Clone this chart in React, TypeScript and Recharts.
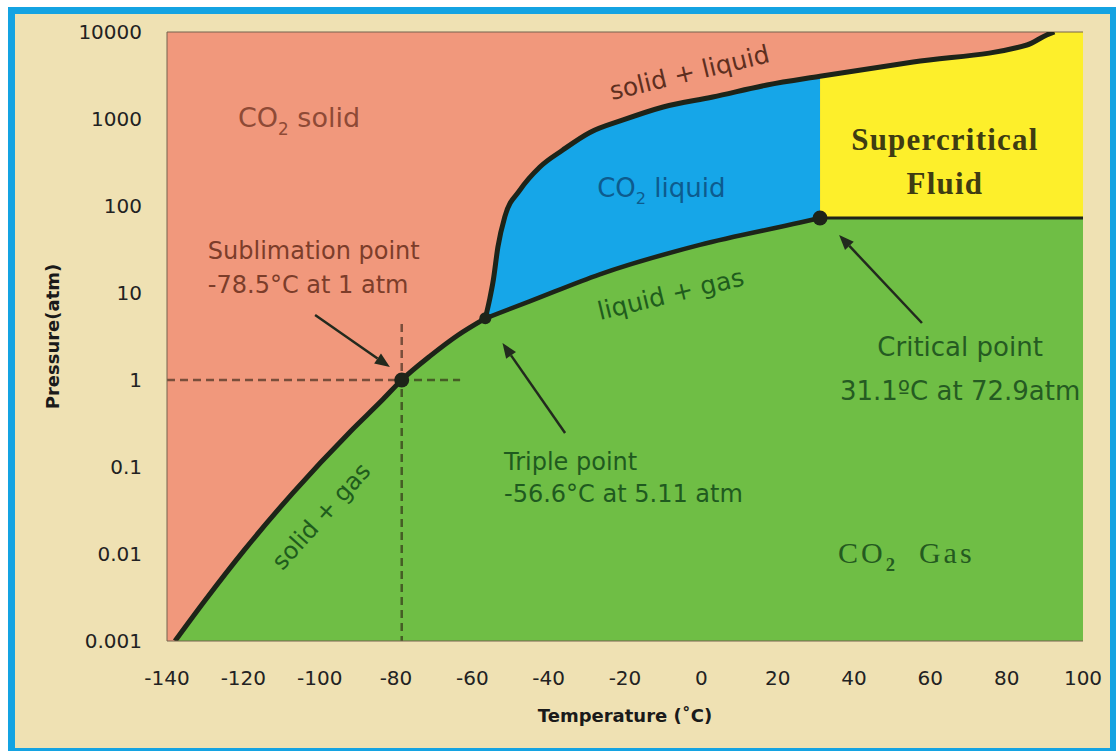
import React from 'react';
import {
  ComposedChart,
  Area,
  Line,
  Scatter,
  XAxis,
  YAxis,
  CartesianGrid,
  ReferenceLine,
} from 'recharts';

// axis ticks
const TEMP_TICKS = [-140, -120, -100, -80, -60, -40, -20, 0, 20, 40, 60, 80, 100];
const PRESSURE_TICKS = [0.001, 0.01, 0.1, 1, 10, 100, 1000, 10000];

// phase boundaries: t in °C, p in atm
const SUBLIMATION = [
  { t: -137.9, p: 0.001 },
  { t: -130.1, p: 0.0029 },
  { t: -119.6, p: 0.0113 },
  { t: -107.0, p: 0.0505 },
  { t: -92.0, p: 0.255 },
  { t: -83.4, p: 0.6 },
  { t: -78.5, p: 1 },
  { t: -71.1, p: 1.88 },
  { t: -63.8, p: 3.27 },
  { t: -56.6, p: 5.11 },
];

const VAPORIZATION = [
  { t: -56.6, p: 5.11 },
  { t: -45.0, p: 8.0 },
  { t: -26.6, p: 16.4 },
  { t: -0.4, p: 35.7 },
  { t: 25.9, p: 64.6 },
  { t: 31.1, p: 72.9 },
];

const MELTING = [
  { t: -56.6, p: 5.11 },
  { t: -55.5, p: 8.3 },
  { t: -54.5, p: 14.1 },
  { t: -53.3, p: 33.8 },
  { t: -51.5, p: 75 },
  { t: -47.5, p: 153 },
  { t: -42.3, p: 281 },
  { t: -36.3, p: 440 },
  { t: -29.2, p: 700 },
  { t: -20.5, p: 975 },
  { t: -10.0, p: 1374 },
  { t: 3.0, p: 1790 },
  { t: 17.2, p: 2460 },
  { t: 31.1, p: 3100 },
  { t: 55.5, p: 4520 },
  { t: 85.3, p: 7090 },
  { t: 90.5, p: 9250 },
  { t: 92.5, p: 10000 },
];

// critical pressure carried to the right edge, and the top-right corner
const CRITICAL_ISOBAR = [
  { t: 31.1, p: 72.9 },
  { t: 100, p: 72.9 },
];
const TOP_EDGE = [{ t: 100, p: 10000 }];

const KEY_POINTS = [
  { id: 'sublimation', t: -78.5, p: 1 },
  { id: 'triple', t: -56.6, p: 5.11 },
  { id: 'critical', t: 31.1, p: 72.9 },
];

// dashed guides through the sublimation point
const GUIDES = [
  [{ x: -140, y: 1 }, { x: -63.2, y: 1 }],
  [{ x: -78.5, y: 4.4 }, { x: -78.5, y: 0.001 }],
];

// callout arrows, tail first
const ARROWS = [
  [{ x: -101.2, y: 5.58 }, { x: -81.6, y: 1.41 }],
  [{ x: -35.7, y: 0.246 }, { x: -52.1, y: 2.66 }],
  [{ x: 57.8, y: 4.52 }, { x: 36.1, y: 46.4 }],
];

// text notes; "_" marks a subscript piece
const NOTES = [
  { id: 'solid', t: -121.4, p: 809, lines: [['CO', '_2', ' solid']] },
  { id: 'sublimation', t: -129.3, p: 24.6, lines: [['Sublimation point'], ['-78.5°C at 1 atm']] },
  { id: 'liquid', t: -27.3, p: 127, lines: [['CO', '_2', ' liquid']] },
  { id: 'supercritical', t: 63.8, p: 441, lines: [['Supercritical'], ['Fluid']] },
  { id: 'solidLiquid', t: -23.4, p: 1652, lines: [['solid + liquid']] },
  { id: 'liquidGas', t: -26.55, p: 4.9, lines: [['liquid + gas']] },
  { id: 'solidGas', t: -98.0, p: 0.0236, lines: [['solid + gas']] },
  { id: 'triple', t: -51.7, p: 0.0925, lines: [['Triple point'], ['-56.6°C at 5.11 atm']] },
  { id: 'critical', t: 67.8, p: 1.89, lines: [['Critical point'], ['31.1ºC at 72.9atm']] },
  { id: 'gas', t: 35.8, p: 0.00789, lines: [['CO', '_2', '  Gas']] },
];

const SANS = "'DejaVu Sans', Verdana, sans-serif";
const SERIF = "'Liberation Serif', 'Times New Roman', serif";

const SALMON = '#f1987c';
const GREEN = '#6fbe45';
const BLUE = '#16a6e8';
const YELLOW = '#fdef2b';
const INK = '#1d2419';
const AXIS = '#75634f';

type NoteStyle = {
  color: string;
  size: number;
  family?: string;
  weight?: string;
  anchor?: 'start' | 'middle' | 'end';
  leading?: number;
  angle?: number;
  spacing?: number;
  subWeight?: string;
};

const NOTE_STYLE: Record<string, NoteStyle> = {
  solid: { color: '#8e4a36', size: 27 },
  sublimation: { color: '#7c3d2a', size: 24, leading: 34 },
  liquid: { color: '#0d5b8e', size: 26 },
  supercritical: { color: '#3f3c12', size: 31, family: SERIF, weight: 'bold', anchor: 'middle', leading: 44, spacing: 1.2 },
  solidLiquid: { color: '#5e2f1f', size: 25, angle: -13.5 },
  liquidGas: { color: '#1f5c1d', size: 25, angle: -13.5 },
  solidGas: { color: '#1f5c1d', size: 24, angle: -48, anchor: 'middle' },
  triple: { color: '#1f5a1f', size: 24, leading: 32 },
  critical: { color: '#255b22', size: 26, anchor: 'middle', leading: 44 },
  gas: { color: '#245a20', size: 30, family: SERIF, spacing: 3, subWeight: 'bold' },
};

const DOT_RADIUS: Record<string, number> = { sublimation: 7.5, triple: 6, critical: 7.5 };

const gasRegion = [...SUBLIMATION, ...VAPORIZATION.slice(1), ...CRITICAL_ISOBAR.slice(1)];
const liquidRegion = MELTING.filter((d) => d.t <= 31.1);
const fluidRegion = [...MELTING.filter((d) => d.t >= 31.1), ...TOP_EDGE];

const XTick = (props: any) => {
  const { x, y, payload } = props;
  return (
    <text x={x} y={y + 44} textAnchor="middle" fontSize={20} fontFamily={SANS} fill="#222">
      {payload.value}
    </text>
  );
};

const YTick = (props: any) => {
  const { x, y, payload } = props;
  return (
    <text x={x - 25} y={y + 7} textAnchor="end" fontSize={20} fontFamily={SANS} fill="#222">
      {payload.value}
    </text>
  );
};

const XTitle = (props: any) => {
  const { x, y, width } = props.viewBox;
  return (
    <text x={x + width / 2} y={y + 81} textAnchor="middle" fontSize={18} fontWeight="bold" fontFamily={SANS} fill="#1a1a1a">
      Temperature (˚C)
    </text>
  );
};

const YTitle = (props: any) => {
  const { x, y, height } = props.viewBox;
  const cx = x - 48;
  const cy = y + height / 2;
  return (
    <text
      x={cx}
      y={cy}
      transform={`rotate(-90, ${cx}, ${cy})`}
      textAnchor="middle"
      fontSize={18}
      fontWeight="bold"
      fontFamily={SANS}
      fill="#1a1a1a"
    >
      Pressure(atm)
    </text>
  );
};

const Arrow = (props: any) => {
  const { x1, y1, x2, y2 } = props;
  const a = Math.atan2(y2 - y1, x2 - x1);
  const len = 15;
  const half = 6;
  const bx = x2 - len * Math.cos(a);
  const by = y2 - len * Math.sin(a);
  const px = -Math.sin(a) * half;
  const py = Math.cos(a) * half;
  return (
    <g>
      <line x1={x1} y1={y1} x2={bx} y2={by} stroke="#222a1e" strokeWidth={2.5} />
      <polygon points={`${x2},${y2} ${bx + px},${by + py} ${bx - px},${by - py}`} fill="#222a1e" />
    </g>
  );
};

const Guide = (props: any) => {
  const { x1, y1, x2, y2 } = props;
  return (
    <line
      x1={x1}
      y1={y1}
      x2={x2}
      y2={y2}
      stroke="#2a1c10"
      strokeOpacity={0.6}
      strokeWidth={2.5}
      strokeDasharray="8 5"
    />
  );
};

const KeyDot = (props: any) => {
  const { cx, cy, payload } = props;
  return <circle cx={cx} cy={cy} r={DOT_RADIUS[payload.id]} fill={INK} />;
};

const segments = (parts: string[], st: NoteStyle) => {
  const shift = st.size * 0.28;
  let lowered = false;
  return parts.map((s, i) => {
    if (s.startsWith('_')) {
      lowered = true;
      return (
        <tspan key={i} fontSize={st.size * 0.62} fontWeight={st.subWeight} dy={shift}>
          {s.slice(1)}
        </tspan>
      );
    }
    const dy = lowered ? -shift : undefined;
    lowered = false;
    return (
      <tspan key={i} dy={dy}>
        {s}
      </tspan>
    );
  });
};

const Note = (props: any) => {
  const { cx, cy, payload } = props;
  const st = NOTE_STYLE[payload.id];
  return (
    <text
      x={cx}
      y={cy}
      fill={st.color}
      fontSize={st.size}
      fontFamily={st.family ?? SANS}
      fontWeight={st.weight ?? 'normal'}
      textAnchor={st.anchor ?? 'start'}
      letterSpacing={st.spacing ?? 0}
      transform={st.angle ? `rotate(${st.angle}, ${cx}, ${cy})` : undefined}
      style={{ whiteSpace: 'pre' }}
    >
      {payload.lines.map((parts: string[], i: number) => (
        <tspan key={i} x={cx} dy={i === 0 ? 0 : st.leading}>
          {segments(parts, st)}
        </tspan>
      ))}
    </text>
  );
};

export default function App() {
  return (
    <div style={{ position: 'absolute', left: 0, top: 0, width: 1116, height: 751, overflow: 'hidden' }}>
      <div
        style={{
          position: 'absolute',
          left: 8,
          top: 7,
          width: 1108,
          height: 744,
          boxSizing: 'border-box',
          borderStyle: 'solid',
          borderColor: '#14a3e2',
          borderWidth: '7px 6px 3px 7px',
          background: '#efe1b3',
        }}
      />
      <div style={{ position: 'absolute', left: 0, top: 0 }}>
        <ComposedChart width={1116} height={751} margin={{ top: 32, right: 33, bottom: 80, left: 107 }}>
          <CartesianGrid horizontal={false} vertical={false} fill={SALMON} />
          <XAxis
            type="number"
            dataKey="t"
            domain={[-140, 100]}
            ticks={TEMP_TICKS}
            interval={0}
            allowDataOverflow
            height={30}
            tickLine={false}
            tickSize={0}
            tickMargin={0}
            tick={XTick}
            axisLine={{ stroke: AXIS, strokeWidth: 1 }}
            label={XTitle}
          />
          <YAxis
            type="number"
            dataKey="p"
            scale="log"
            domain={[0.001, 10000]}
            ticks={PRESSURE_TICKS}
            interval={0}
            allowDataOverflow
            width={60}
            tickLine={false}
            tickSize={0}
            tickMargin={0}
            tick={YTick}
            axisLine={{ stroke: AXIS, strokeWidth: 1 }}
            label={YTitle}
          />

          <Area data={fluidRegion} dataKey="p" type="monotone" baseValue="dataMin" fill={YELLOW} fillOpacity={1} stroke="none" isAnimationActive={false} />
          <Area data={liquidRegion} dataKey="p" type="monotone" baseValue="dataMin" fill={BLUE} fillOpacity={1} stroke="none" isAnimationActive={false} />
          <Area data={gasRegion} dataKey="p" type="monotone" baseValue="dataMin" fill={GREEN} fillOpacity={1} stroke="none" isAnimationActive={false} />

          <ReferenceLine y={10000} stroke={AXIS} strokeWidth={1} />
          {GUIDES.map((seg, i) => (
            <ReferenceLine key={`g${i}`} segment={seg} shape={Guide} />
          ))}

          <Line data={CRITICAL_ISOBAR} dataKey="p" type="linear" stroke={INK} strokeWidth={3} dot={false} isAnimationActive={false} />
          <Line data={SUBLIMATION} dataKey="p" type="monotone" stroke={INK} strokeWidth={5} dot={false} isAnimationActive={false} />
          <Line data={VAPORIZATION} dataKey="p" type="monotone" stroke={INK} strokeWidth={4.5} dot={false} isAnimationActive={false} />
          <Line data={MELTING} dataKey="p" type="monotone" stroke={INK} strokeWidth={5} dot={false} isAnimationActive={false} />

          <Scatter data={KEY_POINTS} dataKey="p" shape={KeyDot} isAnimationActive={false} />
          <Scatter data={NOTES} dataKey="p" shape={Note} isAnimationActive={false} />

          {ARROWS.map((seg, i) => (
            <ReferenceLine key={`a${i}`} segment={seg} shape={Arrow} />
          ))}
        </ComposedChart>
      </div>
    </div>
  );
}
